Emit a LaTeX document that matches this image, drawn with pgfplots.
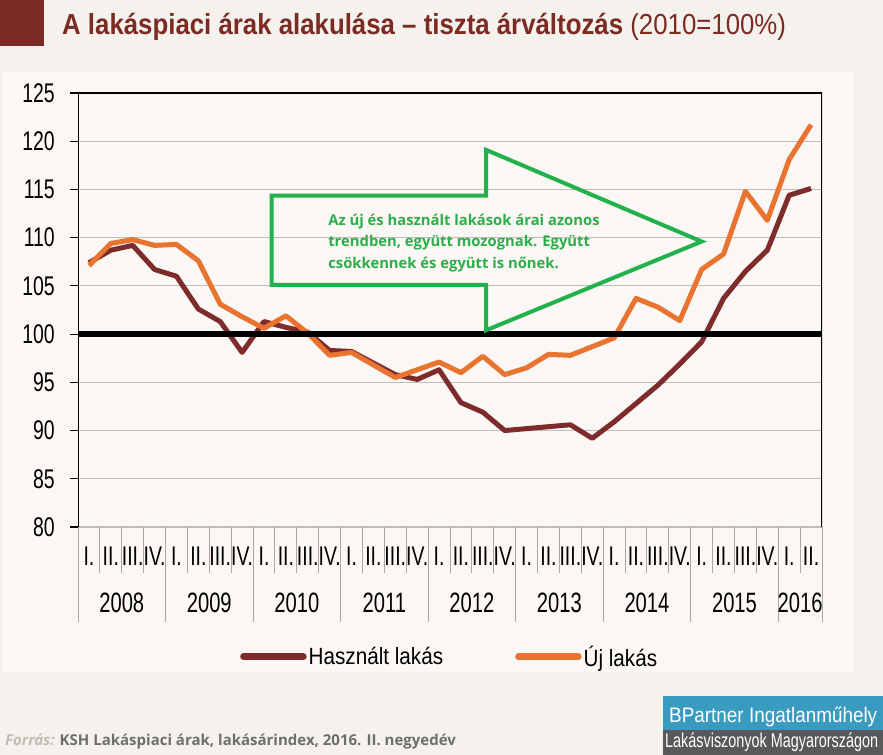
\documentclass[border=0pt]{standalone}
\usepackage{fontspec}
\usepackage{pgfplots}
\pgfplotsset{compat=1.18}
\setmainfont{Liberation Sans}
\newfontfamily\narrowfont{Liberation Sans}[FakeStretch=0.72]
\newfontfamily\legfont{Liberation Sans}[FakeStretch=0.88]
\newfontfamily\titlefont{Liberation Sans}[FakeStretch=0.89]
\newfontfamily\opensans{Open Sans}
\newfontfamily\logofonta{Liberation Sans}[FakeStretch=0.9]
\newfontfamily\logofontb{Liberation Sans}[FakeStretch=0.72]
\definecolor{bg}{HTML}{F5F1ED}
\definecolor{panel}{HTML}{FAF7F4}
\definecolor{titlered}{HTML}{7B2A24}
\definecolor{used}{HTML}{7D2B2B}
\definecolor{newc}{HTML}{E8742F}
\definecolor{gridgray}{HTML}{BEBEBE}
\definecolor{sepgray}{HTML}{A8A8A8}
\definecolor{arrowgreen}{HTML}{22B14C}
\definecolor{greentext}{HTML}{2DAE4B}
\definecolor{logoblue}{HTML}{3A9BC1}
\definecolor{logogray}{HTML}{595959}
\definecolor{srcgray}{HTML}{6E6E6E}
\definecolor{srclight}{HTML}{C4BBB5}
\begin{document}
\begin{tikzpicture}[x=1bp,y=1bp]
\fill[bg] (0,0) rectangle (883,755);
\fill[panel] (3,83) rectangle (853,683);
\fill[titlered] (0,709) rectangle (44,755);
\node[anchor=base west, inner sep=0pt, text=titlered, font=\fontsize{29bp}{32bp}\titlefont] at (62,720)
  {\textbf{A lakáspiaci árak alakulása – tiszta árváltozás} (2010=100\%)};

\begin{axis}[
  at={(78bp,228bp)}, anchor=south west,
  scale only axis, width=744bp, height=434bp,
  xmin=0.5, xmax=34.5, ymin=80, ymax=125,
  xtick=\empty,
  ytick={80,85,...,125},
  ytick pos=left,
  tick align=outside,
  major tick length=8bp,
  ymajorgrids,
  grid style={color=gridgray, line width=1.2bp},
  y tick style={black, line width=1.2bp},
  axis line style={draw=none},
  yticklabel style={font=\fontsize{27bp}{27bp}\narrowfont, anchor=east, inner sep=0pt, xshift=-15bp},
  /pgf/number format/assume math mode=true,
  legend columns=2,
  legend cell align=left,
  legend style={draw=none, fill=none, inner sep=0pt, at={(0.2177,-0.2988)}, anchor=west,
    font=\fontsize{23.5bp}{24bp}\legfont, nodes={inner sep=0pt},
    /tikz/every odd column/.append style={column sep=2bp},
    /tikz/every even column/.append style={column sep=72bp}},
  legend image code/.code={\draw[#1, line width=6.5bp, line cap=round] (0bp,0bp) -- (60bp,0bp);},
]
\addplot[color=used, line width=5bp, line join=round, mark=none] coordinates {
(1,107.4) (2,108.7) (3,109.2) (4,106.7) (5,106.0) (6,102.6) (7,101.3) (8,98.1)
(9,101.3) (10,100.7) (11,100.2) (12,98.3) (13,98.2) (14,97.0) (15,95.8) (16,95.3)
(17,96.3) (18,92.9) (19,91.9) (20,90.0) (21,90.2) (22,90.4) (23,90.6) (24,89.2)
(25,90.9) (26,92.8) (27,94.7) (28,96.9) (29,99.2) (30,103.7) (31,106.5) (32,108.7)
(33,114.4) (34,115.1)};
\addlegendentry{Használt lakás}
\addplot[color=newc, line width=5bp, line join=round, mark=none] coordinates {
(1,107.1) (2,109.4) (3,109.8) (4,109.2) (5,109.3) (6,107.6) (7,103.1) (8,101.8)
(9,100.6) (10,101.9) (11,100.1) (12,97.8) (13,98.1) (14,96.8) (15,95.5) (16,96.3)
(17,97.1) (18,96.0) (19,97.7) (20,95.8) (21,96.5) (22,97.9) (23,97.8) (24,98.7)
(25,99.6) (26,103.7) (27,102.8) (28,101.4) (29,106.7) (30,108.3) (31,114.8) (32,111.8)
(33,118.1) (34,121.7)};
\addlegendentry{Új lakás}
\addplot[black, line width=6bp, forget plot] coordinates {(0.5,100) (34.5,100)};
\draw[gridgray, line width=1.2bp] (rel axis cs:0,0) -- (rel axis cs:1,0);
\draw[black, line width=2bp] (rel axis cs:0,0) -- (rel axis cs:0,1) -- (rel axis cs:1,1) -- (rel axis cs:1,0);
\draw[arrowgreen, line width=4bp, line join=miter]
  (axis cs:9.35,114.35) -- (axis cs:19.15,114.35) -- (axis cs:19.15,119.1) -- (axis cs:29.0,109.6)
  -- (axis cs:19.15,100.4) -- (axis cs:19.15,105.1) -- (axis cs:9.35,105.1) -- cycle;
\node[anchor=base west, inner sep=0pt, font=\fontsize{14.8bp}{15bp}\opensans\bfseries, text=greentext] at (axis cs:11.93,111.31) {Az új és használt lakások árai azonos};
\node[anchor=base west, inner sep=0pt, font=\fontsize{14.8bp}{15bp}\opensans\bfseries, text=greentext] at (axis cs:11.93,109.06) {trendben, együtt mozognak. Együtt};
\node[anchor=base west, inner sep=0pt, font=\fontsize{14.8bp}{15bp}\opensans\bfseries, text=greentext] at (axis cs:11.93,106.83) {csökkennek és együtt is nőnek.};
\end{axis}

% category separators
\foreach \k in {0,...,34} {\draw[sepgray, line width=1bp] ({78+21.88235*\k},228) -- ({78+21.88235*\k},182);}
\foreach \k in {0,4,...,32,34} {\draw[sepgray, line width=1bp] ({78+21.88235*\k},228) -- ({78+21.88235*\k},133);}
% quarter labels
\foreach \yr in {0,...,7} {
  \foreach \q/\lab in {0/I.,1/II.,2/III.,3/IV.} {
    \node[anchor=base, inner sep=0pt, font=\fontsize{27bp}{27bp}\narrowfont] at ({78+21.88235*(4*\yr+\q+0.5)},189) {\lab};
  }
}
\node[anchor=base, inner sep=0pt, font=\fontsize{27bp}{27bp}\narrowfont] at ({78+21.88235*32.5},189) {I.};
\node[anchor=base, inner sep=0pt, font=\fontsize{27bp}{27bp}\narrowfont] at ({78+21.88235*33.5},189) {II.};
% year labels
\foreach \yr/\lab in {0/2008,1/2009,2/2010,3/2011,4/2012,5/2013,6/2014,7/2015} {
  \node[anchor=base, inner sep=0pt, font=\fontsize{28bp}{28bp}\narrowfont] at ({78+21.88235*(4*\yr+2)},142) {\lab};
}
\node[anchor=base, inner sep=0pt, font=\fontsize{28bp}{28bp}\narrowfont] at ({78+21.88235*33},142) {2016};

% source
\node[anchor=base west, inner sep=0pt, font=\fontsize{15bp}{15bp}\opensans] at (5,9)
  {\textcolor{srclight}{\itshape\bfseries Forrás:} \textcolor{srcgray}{\bfseries KSH Lakáspiaci árak, lakásárindex, 2016. II. negyedév}};
% logo
\fill[logoblue] (663,25) rectangle (883,59);
\fill[logogray] (663,0) rectangle (883,25);
\node[anchor=base west, inner sep=0pt, text=white, font=\fontsize{21bp}{21bp}\logofonta] at (669,32) {BPartner Ingatlanműhely};
\node[anchor=base west, inner sep=0pt, text=white, font=\fontsize{20bp}{20bp}\logofontb] at (665,7) {Lakásviszonyok Magyarországon};

\pgfresetboundingbox
\useasboundingbox (0,0) rectangle (883,755);
\end{tikzpicture}
\end{document}
